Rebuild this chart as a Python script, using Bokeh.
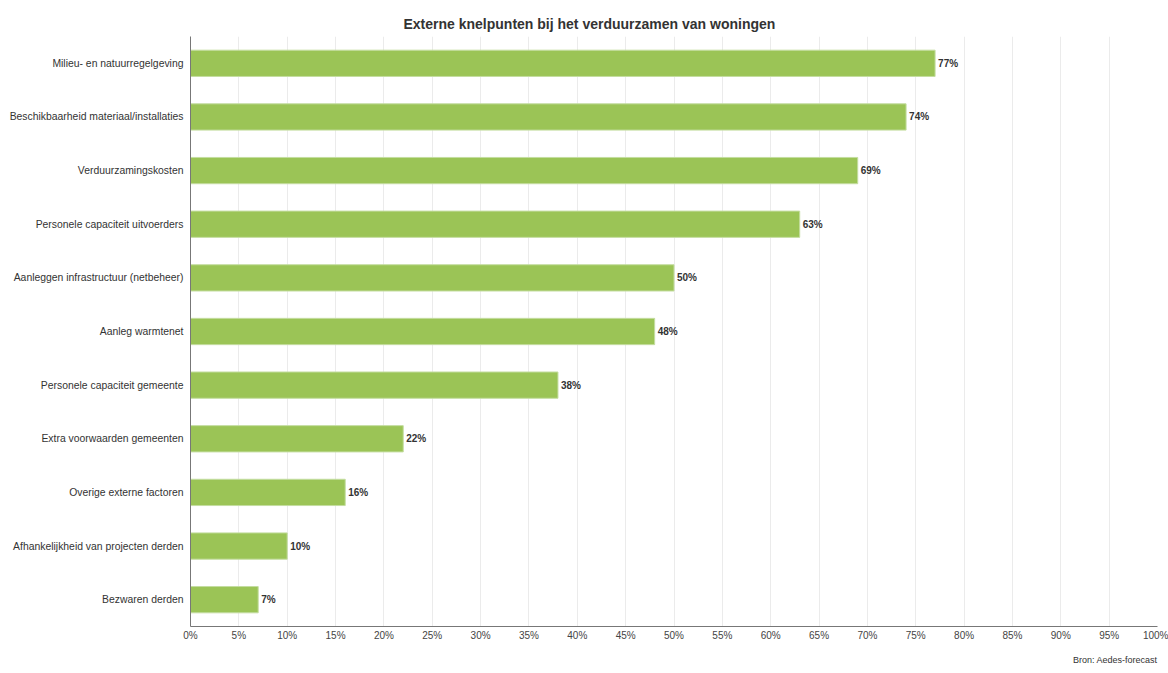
from bokeh.plotting import figure
from bokeh.models import ColumnDataSource, FixedTicker, LabelSet, Title, Range1d
from bokeh.core.properties import value
from bokeh.embed import file_html
from bokeh.resources import INLINE

categories = [
    "Milieu- en natuurregelgeving",
    "Beschikbaarheid materiaal/installaties",
    "Verduurzamingskosten",
    "Personele capaciteit uitvoerders",
    "Aanleggen infrastructuur (netbeheer)",
    "Aanleg warmtenet",
    "Personele capaciteit gemeente",
    "Extra voorwaarden gemeenten",
    "Overige externe factoren",
    "Afhankelijkheid van projecten derden",
    "Bezwaren derden",
]
values = [77, 74, 69, 63, 50, 48, 38, 22, 16, 10, 7]
tick_values = list(range(0, 101, 5))
tick_labels = [f"{t}%" for t in tick_values]

FONT = "Liberation Sans"

src = ColumnDataSource(dict(
    cat=categories,
    val=values,
    lbl=[f"{v}%" for v in values],
))

p = figure(
    width=1168, height=673,
    y_range=list(reversed(categories)),
    x_range=Range1d(0, 100),
    output_backend="svg", toolbar_location=None,
    min_border_left=190, min_border_right=11, min_border_top=36, min_border_bottom=45,
)
p.outline_line_color = None
p.background_fill_color = "white"
p.border_fill_color = "white"

p.hbar(y="cat", right="val", left=0, height=0.49, source=src,
       fill_color="#9BC456", line_color="#C4DDA0", line_width=1)

labels = LabelSet(x="val", y="cat", text="lbl", source=src, x_offset=3,
                  text_font=value(FONT), text_font_size=value("10px"),
                  text_font_style=value("bold"),
                  text_color=value("#333333"), text_baseline=value("middle"))
p.add_layout(labels)

p.xaxis.ticker = FixedTicker(ticks=tick_values)
p.xaxis.major_label_overrides = {t: l for t, l in zip(tick_values, tick_labels)}
p.xaxis.major_label_text_font = FONT
p.xaxis.major_label_text_font_size = "10px"
p.xaxis.major_label_text_color = "#444444"
p.xaxis.axis_line_color = "#777777"
p.xaxis.major_tick_line_color = None
p.xaxis.minor_tick_line_color = None
p.xaxis.major_tick_out = 0
p.xaxis.major_tick_in = 0
p.xaxis.major_label_standoff = 3

p.yaxis.major_label_text_font = FONT
p.yaxis.major_label_text_font_size = "10.4px"
p.yaxis.major_label_text_color = "#333333"
p.yaxis.axis_line_color = "#777777"
p.yaxis.major_tick_line_color = None
p.yaxis.minor_tick_line_color = None
p.yaxis.major_tick_out = 0
p.yaxis.major_tick_in = 0
p.yaxis.major_label_standoff = 7

p.xgrid.grid_line_color = "#EBEBEB"
p.ygrid.grid_line_color = None

p.title = Title(text="Externe knelpunten bij het verduurzamen van woningen",
                align="left", offset=213, text_font=FONT, text_font_size="14px",
                text_font_style="bold", text_color="#333333")

src_title = Title(text="Bron: Aedes-forecast", align="right", text_font=FONT,
                  text_font_size="9px", text_font_style="normal", text_color="#333333",
                  standoff=18)
p.add_layout(src_title, "below")

open("out.html", "w").write(file_html(p, INLINE))
